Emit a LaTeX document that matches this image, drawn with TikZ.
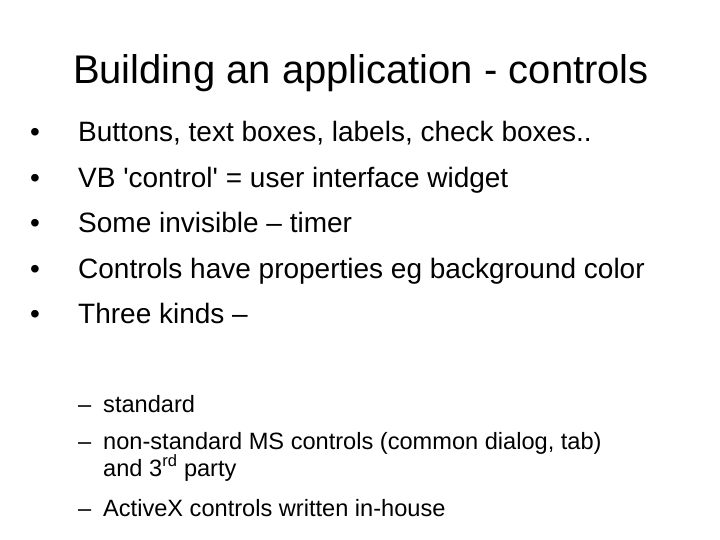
\documentclass[tikz,border=0pt]{standalone}
\usepackage{fontspec}
\setmainfont[Ligatures=NoCommon]{Liberation Sans}
\begin{document}
\begin{tikzpicture}[x=1pt,y=-1pt,
  txt/.style={anchor=base west,inner sep=0pt,font=\fontsize{28}{32}\selectfont},
  sub/.style={anchor=base west,inner sep=0pt,font=\fontsize{23.6}{27}\selectfont},
  ttl/.style={anchor=base,inner sep=0pt,font=\fontsize{40}{44}\selectfont}]
\useasboundingbox (0,0) rectangle (720,540);
\node[ttl] (t) at (361,84) {Building an application - controls};
\foreach \y/\s [count=\i] in {142/{Buttons, text boxes, labels, check boxes..},
  188/{VB \textquotesingle control\textquotesingle{} = user interface widget},
  233/{Some invisible – timer},
  278/{Controls have properties eg background color},
  323/{Three kinds –}}{
  \node[txt] (d\i) at (30,\y) {•};
  \node[txt] (b\i) at (78,\y) {\s};
}
\node[sub] (s1d) at (78,412) {–};
\node[sub] (s1) at (103,412) {standard};
\node[sub] (s2d) at (78,449) {–};
\node[sub] (s2) at (103,449) {non-standard MS controls (common dialog, tab)};
\node[sub] (s2b) at (103,476) {and 3\textsuperscript{rd} party};
\node[sub] (s3d) at (78,516) {–};
\node[sub] (s3) at (103,516) {ActiveX controls written in-house};
\end{tikzpicture}
\end{document}
